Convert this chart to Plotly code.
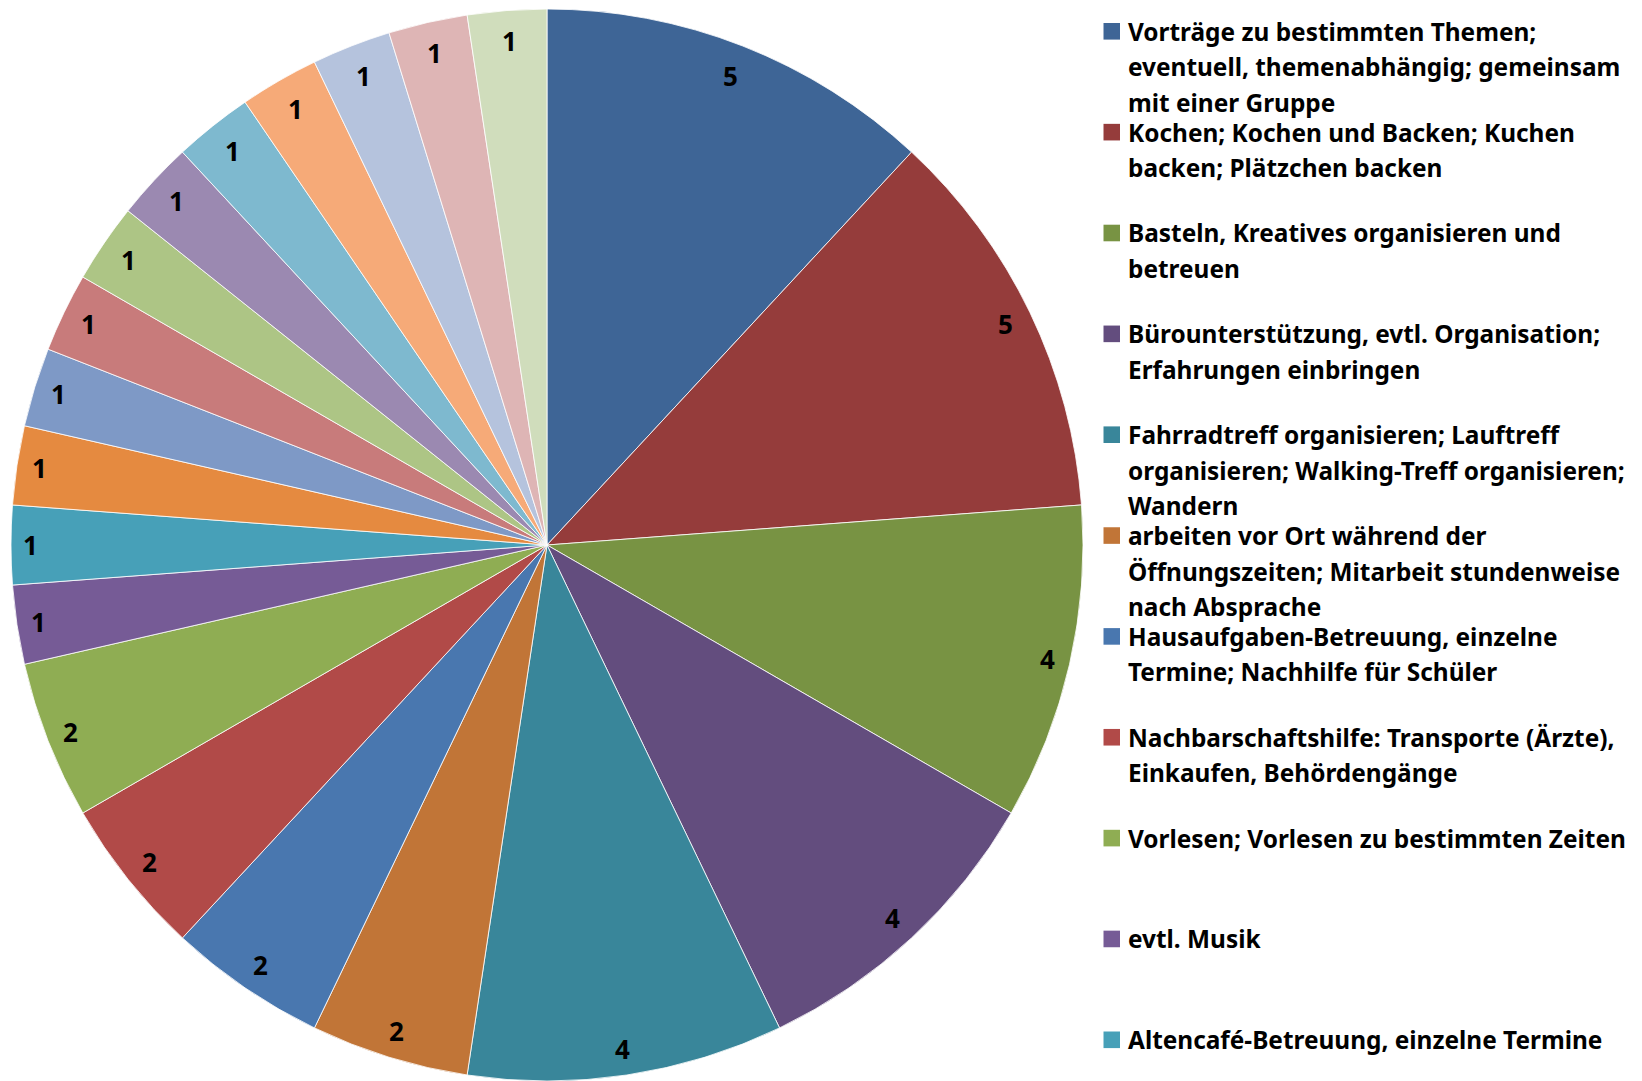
import math
import plotly.graph_objects as go

W, H = 1642, 1081
OFF = 8.0  # the page body adds an 8px margin; reference coordinates are shifted by it

# ---- data -------------------------------------------------------------
legend_labels = [
    "Vorträge zu bestimmten Themen;\neventuell, themenabhängig; gemeinsam\nmit einer Gruppe",
    "Kochen; Kochen und Backen; Kuchen\nbacken; Plätzchen backen",
    "Basteln, Kreatives organisieren und\nbetreuen",
    "Bürounterstützung, evtl. Organisation;\nErfahrungen einbringen",
    "Fahrradtreff organisieren; Lauftreff\norganisieren; Walking-Treff organisieren;\nWandern",
    "arbeiten vor Ort während der\nÖffnungszeiten; Mitarbeit stundenweise\nnach Absprache",
    "Hausaufgaben-Betreuung, einzelne\nTermine; Nachhilfe für Schüler",
    "Nachbarschaftshilfe: Transporte (Ärzte),\nEinkaufen, Behördengänge",
    "Vorlesen; Vorlesen zu bestimmten Zeiten",
    "evtl. Musik",
    "Altencafé-Betreuung, einzelne Termine",
]

values = [5, 5, 4, 4, 4, 2, 2, 2, 2, 1, 1, 1, 1, 1, 1, 1, 1, 1, 1, 1, 1]

colors = [
    "#3E6596", "#953C3B", "#789343", "#634D7E", "#39869A", "#C17537",
    "#4977AF", "#B14A48", "#8FAD53", "#765B96", "#47A0B8", "#E58A40",
    "#7E99C6", "#C87B7B", "#ADC585", "#9B89B1", "#7EB9CF", "#F6AA78",
    "#B5C3DD", "#DEB5B5", "#D0DDBC",
]

slice_labels = [s.replace("\n", " ") for s in legend_labels] + \
    [f"Kategorie {i + 1}" for i in range(len(legend_labels), len(values))]

# ---- geometry (figure pixels) -----------------------------------------
CX, CY, R = 547.0 - OFF, 545.0 - OFF, 536.0
FONT = "Noto Sans"

fig = go.Figure()
fig.add_trace(go.Pie(
    values=values,
    labels=slice_labels,
    sort=False,
    direction="clockwise",
    rotation=0,
    marker=dict(colors=colors, line=dict(color="rgba(255,255,255,0.8)", width=1)),
    textinfo="none",
    showlegend=False,
    domain=dict(x=[(CX - R) / W, (CX + R) / W],
                y=[max(0.0, (H - CY - R) / H), min(1.0, (H - CY + R) / H)]),
))

# value labels sit just inside the rim ("inside end"): the label box is
# pushed inward by its half-extent along the radial direction
annotations = []
total = sum(values)
cum = 0
R_IN, HALF_W, HALF_UP, HALF_DOWN = R - 9.0, 10.5, 21.0, 15.7
for v in values:
    th = 2 * math.pi * (cum + v / 2) / total
    cum += v
    s, c = math.sin(th), math.cos(th)
    rl = R_IN - HALF_W * abs(s) - (HALF_UP if c > 0 else HALF_DOWN) * abs(c)
    px = CX + rl * s
    py = CY - rl * c
    annotations.append(dict(
        x=px / W, y=1 - py / H, xref="paper", yref="paper",
        text=f"<b>{v}</b>", showarrow=False, xanchor="center", yanchor="middle",
        font=dict(family=FONT, size=26, color="black"),
    ))

shapes = []
LEG_Y0, LEG_DY, LINE_DY = 31.3 - OFF, 100.85, 35.6
SQ_X0, SQ_X1, TXT_X = 1103.5 - OFF, 1120.0 - OFF, 1126.0 - OFF
for i, lab in enumerate(legend_labels):
    c = LEG_Y0 + i * LEG_DY
    shapes.append(dict(
        type="rect", xref="paper", yref="paper",
        x0=SQ_X0 / W, x1=SQ_X1 / W, y0=1 - (c + 8.3) / H, y1=1 - (c - 8.3) / H,
        fillcolor=colors[i], line=dict(width=0),
    ))
    for k, line in enumerate(lab.split("\n")):
        annotations.append(dict(
            x=TXT_X / W, y=1 - (c + k * LINE_DY) / H, xref="paper", yref="paper",
            text=f"<b>{line}</b>", showarrow=False, xanchor="left", yanchor="middle",
            font=dict(family=FONT, size=24.4, color="black"),
        ))

fig.update_layout(
    width=W, height=H,
    margin=dict(l=0, r=0, t=0, b=0),
    paper_bgcolor="white", plot_bgcolor="white",
    annotations=annotations, shapes=shapes,
    showlegend=False,
)

fig.write_html("out.html")
